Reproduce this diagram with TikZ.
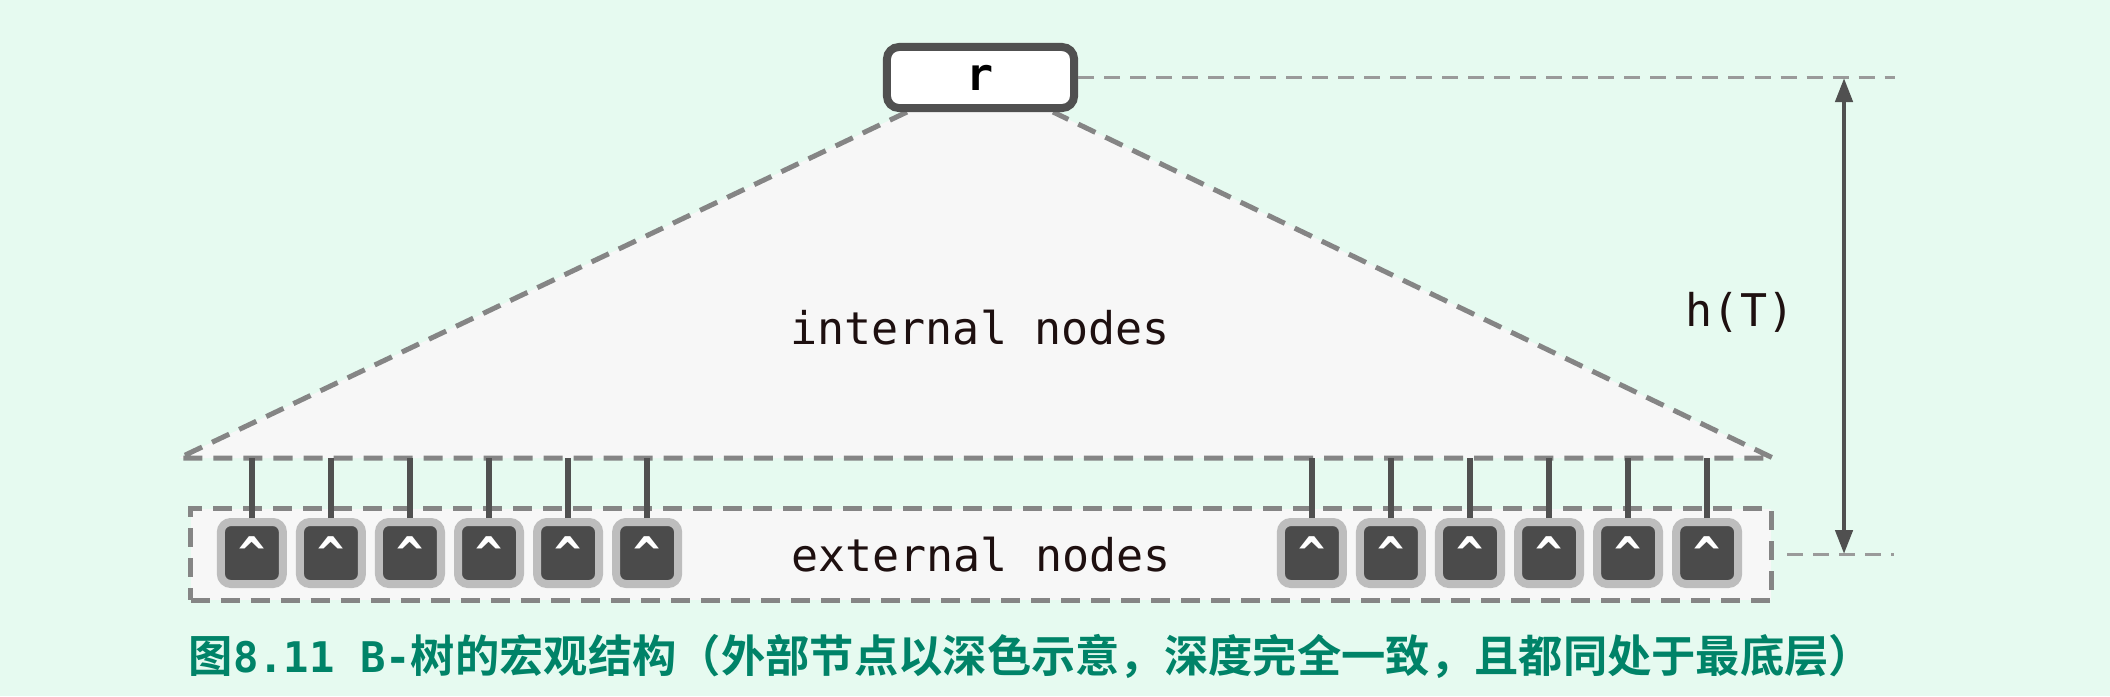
\documentclass[tikz,border=0pt]{standalone}
\usepackage{fontspec}
\setmonofont{DejaVu Sans Mono}
\newfontfamily\cjk{Noto Sans CJK SC}[BoldFont={Noto Sans CJK SC Bold}]
\usepackage{tikz}
\usetikzlibrary{shapes,arrows,arrows.meta}
\definecolor{bggreen}{HTML}{E6FAF0}
\definecolor{panel}{HTML}{F7F7F7}
\definecolor{dashgray}{HTML}{858585}
\definecolor{dimgray}{HTML}{9A9A9A}
\definecolor{boxgray}{HTML}{505050}
\definecolor{rimgray}{HTML}{BDBDBD}
\definecolor{nodedark}{HTML}{4B4B4B}
\definecolor{labeltext}{HTML}{1E1010}
\definecolor{captiongreen}{HTML}{008368}
\newcommand{\labelfont}{\ttfamily\fontsize{12.8pt}{15pt}\selectfont}

\begin{document}
\begin{tikzpicture}[x=0.01cm,y=-0.01cm,
    block_root/.style ={rectangle, draw=boxgray, line width=0.08cm, fill=white,
      rounded corners=0.12cm, minimum width=1.87cm, minimum height=0.61cm,
      font=\labelfont\bfseries, text=black},
    block_ext/.style ={rectangle, draw=rimgray, line width=0.08cm, fill=nodedark,
      rounded corners=0.1cm, minimum size=0.62cm, inner sep=0pt,
      font=\labelfont\bfseries, text=white},
    block_frame/.style ={rectangle, draw=dashgray, line width=0.05cm, fill=panel,
      dash pattern=on 0.19cm off 0.11cm, minimum width=15.8cm, minimum height=0.91cm,
      font=\labelfont, text=labeltext},
    block_noborder/.style ={rectangle, draw=none, fill=none, inner sep=0pt,
      font=\labelfont, text=labeltext},
    block_caption/.style ={rectangle, draw=none, inner sep=0pt,
      font=\cjk\bfseries\fontsize{12.6pt}{15pt}\selectfont, text=captiongreen},
    tri_line/.style ={draw=dashgray, line width=0.05cm, dash pattern=on 0.19cm off 0.11cm},
    dim_line/.style ={draw=dimgray, line width=0.03cm, dash pattern=on 0.16cm off 0.1cm},
    dim_arrow/.style ={draw=boxgray, line width=0.045cm,
      {Triangle[length=0.24cm,width=0.17cm]}-{Triangle[length=0.24cm,width=0.17cm]}},
    line/.style ={draw=boxgray, line width=0.06cm}]
    % background and margins
    \fill[bggreen] (0,0) rectangle (2110,696);
    % the tree of internal nodes
    \coordinate (apex_l) at (907,112);
    \coordinate (apex_r) at (1053,112);
    \coordinate (base_l) at (179,458);
    \coordinate (base_r) at (1773,458);
    \fill[panel] (apex_l) -- (apex_r) -- (base_r) -- (base_l) -- cycle;
    \path[tri_line] (apex_l) -- (base_l) -- (base_r) -- (apex_r);
    \node [block_noborder] (internal) at (980,328) {internal nodes};
    % the level of external nodes
    \node [block_frame] (external) at (981,554.5) {external nodes};
    \matrix [column sep=0.09cm] at (449.5,553) {
      \node [block_ext] (l1) {\textasciicircum}; &
      \node [block_ext] (l2) {\textasciicircum}; &
      \node [block_ext] (l3) {\textasciicircum}; &
      \node [block_ext] (l4) {\textasciicircum}; &
      \node [block_ext] (l5) {\textasciicircum}; &
      \node [block_ext] (l6) {\textasciicircum}; \\
    };% end matrix
    \matrix [column sep=0.09cm] at (1509.5,553) {
      \node [block_ext] (r1) {\textasciicircum}; &
      \node [block_ext] (r2) {\textasciicircum}; &
      \node [block_ext] (r3) {\textasciicircum}; &
      \node [block_ext] (r4) {\textasciicircum}; &
      \node [block_ext] (r5) {\textasciicircum}; &
      \node [block_ext] (r6) {\textasciicircum}; \\
    };% end matrix
    % connecting nodes with paths
    \begin{scope}[every path/.style=line]
      \path (l1) -- (l1 |- base_l);
      \path (l2) -- (l2 |- base_l);
      \path (l3) -- (l3 |- base_l);
      \path (l4) -- (l4 |- base_l);
      \path (l5) -- (l5 |- base_l);
      \path (l6) -- (l6 |- base_l);
      \path (r1) -- (r1 |- base_l);
      \path (r2) -- (r2 |- base_l);
      \path (r3) -- (r3 |- base_l);
      \path (r4) -- (r4 |- base_l);
      \path (r5) -- (r5 |- base_l);
      \path (r6) -- (r6 |- base_l);
    \end{scope}
    % the root
    \node [block_root] (root) at (980.5,77.5) {r};
    % the height
    \coordinate (h_top) at (1844,78);
    \coordinate (h_bot) at (1844,554);
    \coordinate (h_end) at (1895,78);
    \coordinate (hb_l) at (1787,554);
    \coordinate (hb_r) at (1894,554);
    \path[dim_line] (root.east) -- (root.east -| h_end);
    \path[dim_line] (hb_l) -- (hb_r);
    \path[dim_arrow] (h_top) -- (h_bot);
    \node [block_noborder] (height) at (1740,312) {h(T)};
    % caption
    \node [block_caption] (caption) at (1031,656) {图{\ttfamily\fontsize{12pt}{15pt}\selectfont 8.11 B-}树的宏观结构（外部节点以深色示意，深度完全一致，且都同处于最底层）};
\end{tikzpicture}
\end{document}
